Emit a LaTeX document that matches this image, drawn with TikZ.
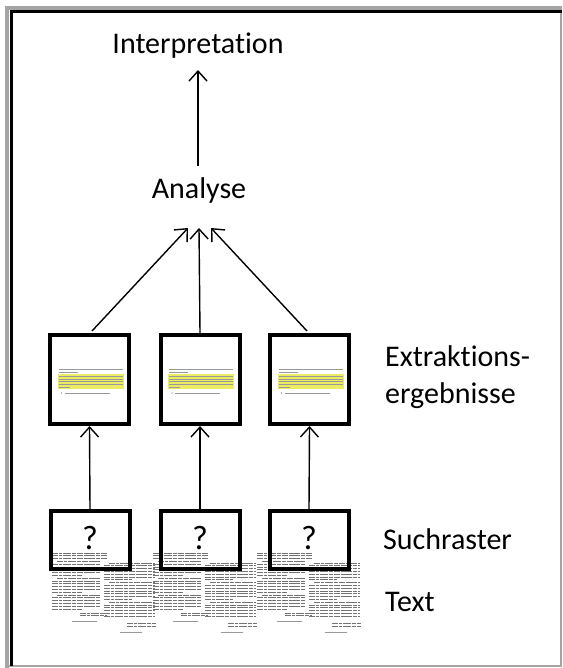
\documentclass[tikz,border=0pt]{standalone}
\usepackage{fontspec}
\setmainfont{Carlito}[Ligatures=NoCommon]
\usetikzlibrary{arrows.meta}
\definecolor{framegray}{RGB}{165,165,165}
\definecolor{hl}{RGB}{236,236,100}
\tikzset{
  lbl/.style={inner sep=0pt, font=\fontsize{30}{36}\selectfont},
  lbll/.style={lbl, anchor=west},
  qmark/.style={inner sep=0pt, font=\fontsize{34}{40}\selectfont},
  resbox/.style={draw=black, line width=4pt, minimum width=79pt, minimum height=89pt, inner sep=0pt},
  rasterbox/.style={draw=black, line width=4pt, minimum width=79pt, minimum height=58pt, inner sep=0pt},
  conn/.style={line width=1.4pt, -{Straight Barb[length=10pt,width=18pt,line width=1.4pt]}},
  txtline/.style={line width=0.7pt, draw=black!55, dash pattern=on 6pt off 0.9pt on 3pt off 0.9pt on 8pt off 0.9pt on 4pt off 0.9pt},
  smline/.style={line width=0.5pt, draw=black!40},
}
\begin{document}
\begin{tikzpicture}[x=1pt,y=-1pt]
\useasboundingbox (0,0) rectangle (562,668);
\fill[white] (0,0) rectangle (562,668);
% window frame
\draw[framegray, line width=4pt] (7,668) -- (7,8.5) -- (562,8.5);
\draw[framegray, line width=1.5pt] (561.2,12) -- (561.2,666.2) -- (9,666.2);
\draw[black, line width=3.5pt] (11.5,665.5) -- (11.5,11.5) -- (562,11.5);

% text thumbnails
\foreach \ox in {52,153,257}{
  \foreach \yy in {553,555.8,558.6}{ \draw[txtline] (\ox,\yy) -- (\ox+56,\yy); }
  \foreach \yy [count=\i] in {561.4,564.2,567,569.8,572.6,575.4,578.2,581,583.8,586.6,589.4,592.2,595,597.8,600.6,603.4,606.2,609}{
    \pgfmathsetmacro{\xs}{(mod(\i,6)==1) ? \ox+5 : \ox}
    \pgfmathsetmacro{\xe}{(mod(\i,6)==0) ? \ox+30 : \ox+48}
    \draw[txtline] (\xs,\yy) -- (\xe,\yy);
  }
  \foreach \yy in {613,615.8}{ \draw[txtline] (\ox+28,\yy) -- (\ox+55,\yy); }
  \draw[smline] (\ox+20,621) -- (\ox+45,621);
  \foreach \yy [count=\i] in {563,565.8,568.6,571.4,574.2,577,579.8,582.6,585.4,588.2,591,593.8,596.6,599.4,602.2,605,607.8,610.6,613.4,616.2}{
    \pgfmathsetmacro{\xs}{(mod(\i,7)==1) ? \ox+57 : \ox+52}
    \pgfmathsetmacro{\xe}{(mod(\i,7)==0) ? \ox+80 : \ox+103}
    \draw[txtline] (\xs,\yy) -- (\xe,\yy);
  }
  \foreach \yy in {623.5,626.3}{ \draw[txtline] (\ox+75,\yy) -- (\ox+104,\yy); }
  \draw[smline] (\ox+68,632) -- (\ox+90,632);
}

% labels
\node[lbl] (interp) at (198,46) {Interpretation};
\node[lbl] (ana) at (199,191) {Analyse};
\node[lbll] (lext) at (385,356) {Extraktions-};
\node[lbll] (lerg) at (385,396) {ergebnisse};
\node[lbll] (lsuch) at (383,539) {Suchraster};
\node[lbll] (ltext) at (385,602) {Text};

% result boxes
\foreach \n/\cx in {1/89.5,2/200,3/309.5}{
  \node[resbox] (e\n) at (\cx,379.5) {};
  \fill[hl] (\cx-32,374) rectangle (\cx+34,389);
  \draw[smline] (\cx-31,369) -- (\cx+33,369);
  \draw[smline] (\cx-31,371.8) -- (\cx-12,371.8);
  \foreach \yy in {376,378.8,381.6,384.4}{ \draw[smline] (\cx-31,\yy) -- (\cx+33,\yy); }
  \draw[smline] (\cx-31,387.2) -- (\cx-20,387.2);
  \fill[black!55] (\cx-28,393) circle (0.7pt);
  \draw[smline] (\cx-25,393) -- (\cx+20,393);
}
% search grids
\foreach \n/\cx in {1/90,2/200,3/309}{
  \node[rasterbox] (s\n) at (\cx,540) {};
  \node[qmark] (q\n) at (\cx,538) {?};
}

% connectors
\coordinate (a1) at (188,228);
\coordinate (a2) at (199,228);
\coordinate (a3) at (211,228);
\coordinate (ia) at (198,166);
\coordinate (ib) at (198,70);
\coordinate (e1t) at (92,331);
\coordinate (e3t) at (307,331);
\draw[conn] (ia) -- (ib);
\draw[conn] (e1t) -- (a1);
\draw[conn] (e2.north) -- (a2);
\draw[conn] (e3t) -- (a3);
\draw[conn] (s1.north) -- (e1.south);
\draw[conn] (s2.north) -- (e2.south);
\draw[conn] (s3.north) -- (e3.south);
\end{tikzpicture}
\end{document}
